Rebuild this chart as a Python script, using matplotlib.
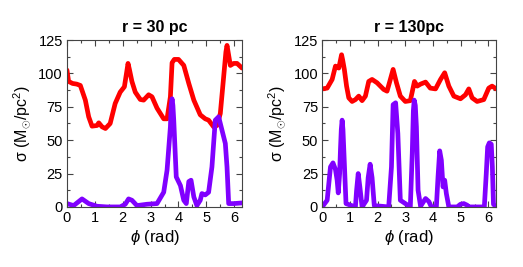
import matplotlib
matplotlib.use("Agg")
import matplotlib.pyplot as plt
from matplotlib.ticker import MultipleLocator

plt.rcParams['font.family'] = ['Liberation Sans', 'DejaVu Sans']
plt.rcParams['mathtext.fontset'] = 'custom'
plt.rcParams['mathtext.rm'] = 'Liberation Sans'
plt.rcParams['mathtext.it'] = 'Liberation Sans:italic'

# r = 30 pc
phi30_red = [0, 0.06, 0.2, 0.35, 0.48, 0.66, 0.78, 0.9, 1.08, 1.14, 1.26, 1.38, 1.55, 1.73,
             1.91, 2.06, 2.15, 2.19, 2.24, 2.33, 2.45, 2.63, 2.75, 2.93, 3.05, 3.23, 3.47,
             3.59, 3.71, 3.77, 3.85, 4.0, 4.19, 4.37, 4.55, 4.78, 4.96, 5.08, 5.26, 5.38,
             5.5, 5.62, 5.70, 5.74, 5.78, 5.86, 5.98, 6.1, 6.28]
sig30_red = [102.5, 94, 92.5, 92, 91, 80, 67.5, 60.5, 61, 63, 60, 58.75, 62.5, 77.5,
             86, 90, 102, 107.5, 103, 94, 86, 80.5, 80, 84, 82.5, 74, 66,
             66, 82.5, 108, 110.5, 110.5, 106, 92.5, 80, 69, 66, 65, 60, 61,
             70, 97.5, 116, 121, 116, 106, 107.5, 107.5, 104]
phi30_pur = [0, 0.24, 0.54, 0.78, 1.08, 1.44, 1.91, 2.09, 2.21, 2.33, 2.51, 2.87, 3.23,
             3.47, 3.59, 3.71, 3.74, 3.77, 3.80, 3.83, 3.92, 4.07, 4.19, 4.28, 4.37, 4.45,
             4.55, 4.66, 4.78, 4.84, 4.96, 5.08, 5.2, 5.32, 5.44, 5.56, 5.68, 5.74, 5.80,
             5.98, 6.28]
sig30_pur = [2.5, 1, 6, 2.5, 0.5, 0, 0, 2, 6, 5, 1, 2, 2.5,
             11, 27.5, 60, 76, 81, 76, 65, 22.5, 16, 5, 2.5, 19, 20,
             7.5, 1, 5, 10, 9, 11, 30, 65, 67.5, 57.5, 47.5, 30, 2.5,
             2.5, 3]

# r = 130 pc
phi130_red = [0, 0.18, 0.36, 0.48, 0.6, 0.66, 0.70, 0.74, 0.8, 0.88, 0.96, 1.08, 1.2, 1.32,
              1.44, 1.56, 1.68, 1.8, 1.98, 2.22, 2.34, 2.46, 2.56, 2.68, 2.82, 3.0, 3.18,
              3.33, 3.43, 3.55, 3.73, 3.9, 4.09, 4.27, 4.42, 4.57, 4.75, 4.99, 5.17, 5.29,
              5.41, 5.59, 5.83, 6.01, 6.13, 6.28]
sig130_red = [88.4, 89, 95.5, 105.5, 104, 110, 114, 110, 103, 90.5, 81.7, 79, 80.4, 83,
              79.6, 83, 94, 95.5, 93, 88, 86.7, 95.5, 103, 93, 83, 79, 79.6,
              94, 90.5, 92, 93.5, 89, 88.4, 95.5, 100.5, 90.5, 83, 81, 84, 88.4,
              81.7, 79, 80.4, 89, 90.5, 88.4]
phi130_pur = [0, 0.18, 0.3, 0.39, 0.48, 0.54, 0.58, 0.63, 0.66, 0.69, 0.72, 0.75, 0.78,
              0.86, 1.2, 1.24, 1.30, 1.36, 1.44, 1.60, 1.66, 1.73, 1.80, 1.88, 2.4, 2.5,
              2.56, 2.65, 2.73, 2.82, 3.18, 3.25, 3.29, 3.32, 3.36, 3.40, 3.46, 3.55, 3.73,
              3.85, 3.94, 4.12, 4.18, 4.24, 4.30, 4.36, 4.42, 4.48, 4.57, 4.87, 4.99, 5.11,
              5.23, 5.29, 5.85, 5.92, 5.97, 6.03, 6.1, 6.14, 6.18, 6.28]
sig130_pur = [0, 5, 30, 33, 28, 20, 10.5, 25, 43, 58, 65, 58, 43,
              2.5, 0, 12, 25, 15, 0, 5, 22, 32, 22, 1, 0, 30,
              76.6, 78, 55, 5, 0, 40, 72, 80, 76, 60, 12.5, 0.5, 6.3,
              4, 0, 0, 22.6, 42, 35, 15, 20, 10, 0, 0, 2, 2.5,
              1.3, 0, 0, 25, 45, 48, 47, 30, 2, 0]

red = '#ff0000'
purple = '#8000ff'

fig = plt.figure(figsize=(5.23, 2.67), dpi=100)
ax1 = fig.add_axes([0.128, 0.225, 0.335, 0.625])
ax2 = fig.add_axes([0.616, 0.225, 0.333, 0.625])

panels = [(ax1, 'r = 30 pc', phi30_red, sig30_red, phi30_pur, sig30_pur),
          (ax2, 'r = 130pc', phi130_red, sig130_red, phi130_pur, sig130_pur)]

for ax, title, xr, yr, xp, yp in panels:
    ax.plot(xr, yr, color=red, lw=3.4, solid_joinstyle='round', solid_capstyle='round')
    ax.plot(xp, yp, color=purple, lw=3.4, solid_joinstyle='round', solid_capstyle='round')
    ax.set_xlim(0, 6.283)
    ax.set_ylim(0, 125)
    ax.xaxis.set_major_locator(MultipleLocator(1))
    ax.xaxis.set_minor_locator(MultipleLocator(0.5))
    ax.yaxis.set_major_locator(MultipleLocator(25))
    ax.yaxis.set_minor_locator(MultipleLocator(12.5))
    ax.tick_params(which='both', direction='in', top=True, right=True,
                   labelsize=10.5, color='#444444', pad=3)
    ax.tick_params(which='major', length=4, width=0.8)
    ax.tick_params(which='minor', length=2.5, width=0.8)
    for s in ax.spines.values():
        s.set_color('#444444')
        s.set_linewidth(0.8)
    ax.set_title(title, fontsize=11.5, fontweight='bold', pad=6)
    ax.set_xlabel(r'$\it{\phi}$ (rad)', fontsize=12, labelpad=2)
    ax.set_ylabel(r'σ (M$_{\odot}$/pc$^2$)', fontsize=11.5, labelpad=4)

fig.savefig('out.png', dpi=100)
